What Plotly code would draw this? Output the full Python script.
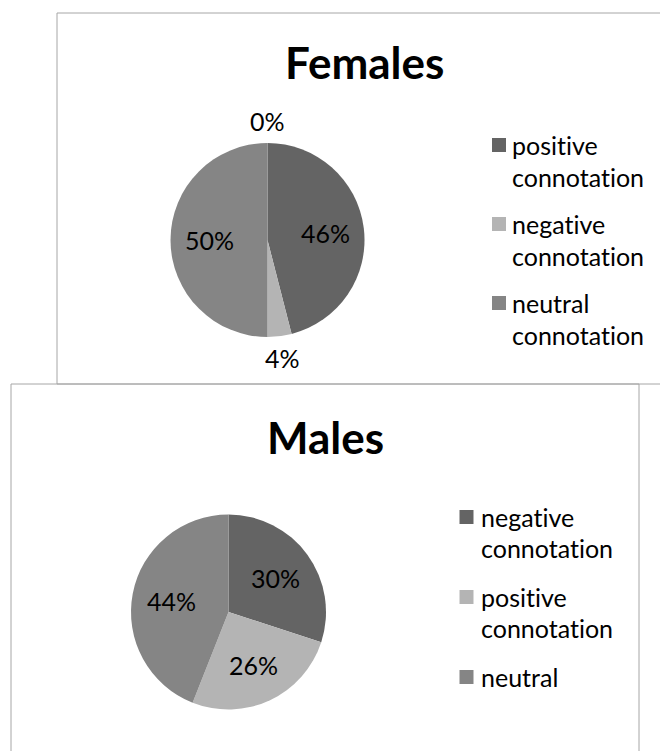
import math
import plotly.graph_objects as go

# ---- data ----
female_labels = ["positive connotation", "negative connotation", "neutral connotation", ""]
female_values = [46, 4, 50, 0]
female_colors = ["#646464", "#B4B4B4", "#858585", "#D0D0D0"]

male_labels = ["negative connotation", "positive connotation", "neutral"]
male_values = [30, 26, 44]
male_colors = ["#646464", "#B4B4B4", "#858585"]

W, H = 660, 751
FONT = "Lato"


def px(x):
    return x / W


def py(y):
    return 1 - y / H


def no_ligatures(s):
    # keep Lato from fusing "ti" into a single glyph
    return s.replace("ti", "t\u200ci")


fig = go.Figure()
annotations = []
shapes = []

# frames around each chart
BORDER = "#A6A6A6"
shapes.append(dict(type="rect", xref="paper", yref="paper",
                   x0=px(57), x1=px(662), y0=py(13), y1=py(384),
                   line=dict(color=BORDER, width=1), fillcolor="rgba(0,0,0,0)"))
shapes.append(dict(type="rect", xref="paper", yref="paper",
                   x0=px(11), x1=px(639), y0=py(384), y1=py(754),
                   line=dict(color=BORDER, width=1), fillcolor="rgba(0,0,0,0)"))

charts = [
    dict(title="Females", labels=female_labels, values=female_values, colors=female_colors,
         cx=267.5, cy=240, r=97, title_x=364.5, title_y=62,
         leg_sq_x=499, leg_text_x=510, leg_y=145, line_h=32, item_gap=47),
    dict(title="Males", labels=male_labels, values=male_values, colors=male_colors,
         cx=228.5, cy=612, r=97.5, title_x=325.5, title_y=437,
         leg_sq_x=466.5, leg_text_x=479, leg_y=517, line_h=31, item_gap=49),
]

for c in charts:
    cx, cy, r = c["cx"], c["cy"], c["r"]
    fig.add_trace(go.Pie(
        labels=c["labels"], values=c["values"],
        marker=dict(colors=c["colors"], line=dict(width=0)),
        sort=False, direction="clockwise", rotation=0,
        textinfo="none", showlegend=False,
        domain=dict(x=[px(cx - r), px(cx + r)], y=[py(cy + r), py(cy - r)]),
    ))

    # title
    annotations.append(dict(text="<b>%s</b>" % c["title"], x=px(c["title_x"]), y=py(c["title_y"]),
                            xref="paper", yref="paper", xanchor="center", yanchor="middle",
                            showarrow=False, font=dict(family=FONT, size=44, color="#000000")))

    # percentage labels at each slice's mid-angle
    total = sum(c["values"])
    cum = 0
    for v in c["values"]:
        mid = (cum + v / 2) / total * 2 * math.pi
        cum += v
        pct = round(100 * v / total)
        dist = r + 22 if pct < 5 else 0.6 * r
        lx = cx + dist * math.sin(mid)
        ly = cy - dist * math.cos(mid)
        annotations.append(dict(text="%d%%" % pct, x=px(lx), y=py(ly),
                                xref="paper", yref="paper", xanchor="center", yanchor="middle",
                                showarrow=False, font=dict(family=FONT, size=25, color="#000000")))

    # legend: square swatch + word-wrapped category name
    y = c["leg_y"]
    for lab, col in zip(c["labels"], c["colors"]):
        if not lab:
            continue
        s = 7
        shapes.append(dict(type="rect", xref="paper", yref="paper",
                           x0=px(c["leg_sq_x"] - s), x1=px(c["leg_sq_x"] + s),
                           y0=py(y - s), y1=py(y + s),
                           line=dict(width=0), fillcolor=col))
        words = lab.split(" ")
        for k, wd in enumerate(words):
            annotations.append(dict(text=no_ligatures(wd), x=px(c["leg_text_x"]),
                                    y=py(y + k * c["line_h"]),
                                    xref="paper", yref="paper", xanchor="left", yanchor="middle",
                                    showarrow=False,
                                    font=dict(family=FONT, size=25, color="#000000")))
        y += (len(words) - 1) * c["line_h"] + c["item_gap"]

fig.update_layout(
    width=W, height=H,
    margin=dict(l=0, r=0, t=0, b=0),
    paper_bgcolor="#FFFFFF", plot_bgcolor="#FFFFFF",
    shapes=shapes, annotations=annotations,
    showlegend=False,
)

fig.write_html("out.html", config={"displayModeBar": False})
